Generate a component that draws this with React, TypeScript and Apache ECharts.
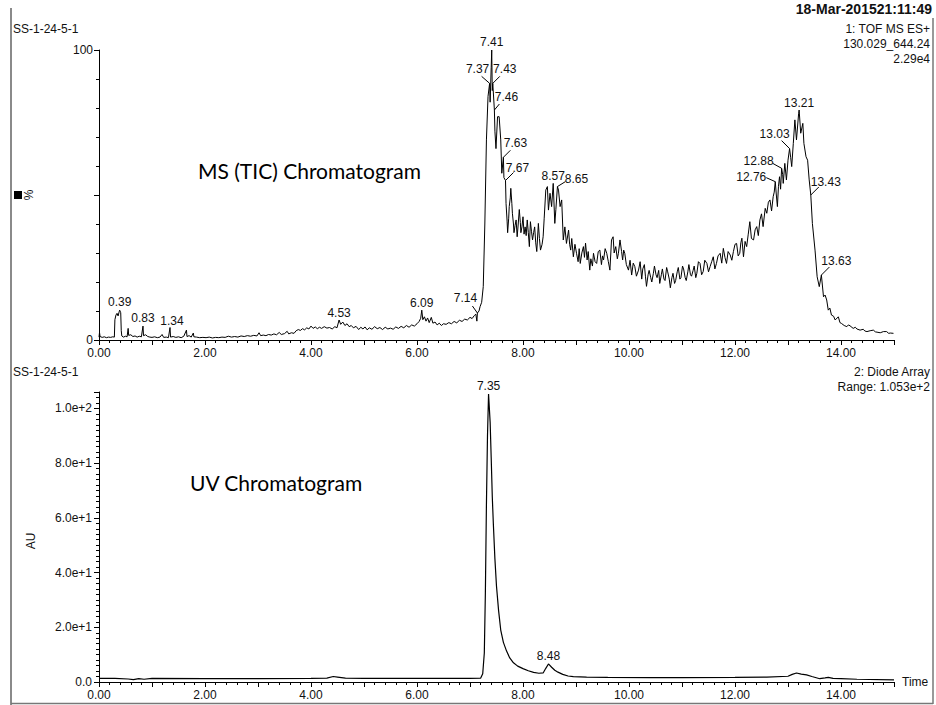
import React, { useEffect, useRef } from "react";
import * as echarts from "echarts";

// ---------- DATA ----------
// MS (TIC) trace: [time (min), relative intensity %]
const msTrace: number[][] = [
  [0.00,1.0],[0.01,2.6],[0.02,1.2],[0.06,0.9],[0.10,1.1],[0.14,0.8],[0.18,1.0],[0.22,0.9],[0.26,1.1],[0.29,1.0],
  [0.30,7.0],[0.32,8.6],[0.34,9.2],[0.36,8.3],[0.38,9.7],[0.39,10.3],[0.41,9.4],[0.42,3.2],[0.43,1.4],[0.46,1.0],
  [0.50,1.3],[0.53,1.1],[0.55,4.0],[0.56,1.6],[0.60,1.8],[0.64,1.2],[0.68,1.4],[0.72,1.0],[0.76,1.3],[0.80,1.1],
  [0.83,4.8],[0.84,1.5],[0.88,1.8],[0.92,1.2],[0.96,1.0],[1.00,0.9],[1.05,1.1],[1.10,0.8],[1.15,1.0],[1.19,1.9],
  [1.22,0.9],[1.27,1.0],[1.31,0.8],[1.34,4.3],[1.35,1.0],[1.40,1.2],[1.45,0.9],[1.50,1.1],[1.55,0.8],[1.60,1.3],
  [1.65,3.4],[1.66,1.2],[1.70,1.5],[1.74,1.0],[1.78,2.4],[1.79,1.1],[1.84,1.0],[1.90,0.8],[1.96,0.9],[2.02,0.8],
  [2.08,1.0],[2.14,0.7],[2.20,0.9],[2.26,0.8],[2.32,1.0],[2.38,0.9],[2.44,1.3],[2.50,1.0],[2.56,1.2],[2.62,1.0],
  [2.68,1.4],[2.74,1.2],[2.80,1.5],[2.86,1.3],[2.92,1.6],[2.98,1.4],[3.02,2.5],[3.05,1.5],[3.10,1.7],[3.15,1.5],
  [3.20,1.9],[3.25,1.7],[3.30,2.1],[3.35,1.8],[3.40,2.6],[3.44,1.9],[3.50,2.2],[3.55,3.0],[3.58,2.1],[3.63,2.5],
  [3.68,2.3],[3.72,3.2],[3.76,3.6],[3.80,3.3],[3.84,3.9],[3.88,3.5],[3.92,4.2],[3.96,3.8],[4.00,4.8],[4.04,4.0],
  [4.08,4.5],[4.12,3.9],[4.16,4.4],[4.20,4.0],[4.25,4.6],[4.30,4.1],[4.35,4.3],[4.40,3.8],[4.45,4.6],[4.49,4.2],
  [4.53,6.9],[4.56,5.4],[4.60,6.2],[4.64,5.0],[4.68,5.6],[4.72,4.6],[4.76,5.0],[4.80,4.2],[4.85,4.7],[4.90,3.6],
  [4.94,4.4],[4.98,3.8],[5.02,4.5],[5.06,3.5],[5.10,4.2],[5.15,3.7],[5.20,4.6],[5.25,3.9],[5.30,4.3],[5.35,3.6],
  [5.40,4.4],[5.45,3.8],[5.50,4.1],[5.55,3.7],[5.60,4.5],[5.65,4.0],[5.70,4.7],[5.75,4.2],[5.80,5.0],[5.85,4.4],
  [5.90,5.2],[5.95,4.8],[6.00,5.6],[6.04,6.4],[6.07,7.5],[6.09,10.3],[6.11,7.0],[6.14,8.0],[6.17,6.5],[6.20,7.6],
  [6.23,6.0],[6.27,7.8],[6.30,5.8],[6.34,6.2],[6.38,5.2],[6.42,5.8],[6.46,5.0],[6.50,5.6],[6.55,5.4],[6.60,6.0],
  [6.65,5.6],[6.70,6.4],[6.75,5.9],[6.80,6.8],[6.85,6.4],[6.90,7.2],[6.95,6.9],[7.00,7.8],[7.04,7.4],[7.08,8.4],
  [7.11,8.9],[7.13,6.5],[7.14,9.3],[7.17,10.0],[7.19,11.5],[7.22,13.0],[7.25,18.4],[7.28,40.0],[7.31,69.0],[7.34,84.0],
  [7.37,88.5],[7.38,82.0],[7.40,94.0],[7.41,100.0],[7.42,86.0],[7.43,88.5],[7.46,79.3],[7.47,72.0],[7.49,66.0],[7.52,77.0],
  [7.55,77.0],[7.58,69.0],[7.60,57.5],[7.63,63.0],[7.64,56.0],[7.67,55.0],[7.68,47.1],[7.70,41.0],[7.71,37.0],[7.73,42.0],
  [7.74,46.0],[7.76,49.0],[7.77,52.3],[7.79,47.0],[7.80,43.7],[7.82,40.0],[7.83,37.0],[7.85,39.5],[7.87,41.4],[7.89,35.6],
  [7.91,40.0],[7.93,45.0],[7.95,40.5],[7.96,37.0],[7.98,39.0],[8.00,42.5],[8.02,36.5],[8.04,39.0],[8.06,36.0],[8.08,41.4],
  [8.10,37.0],[8.12,32.2],[8.14,40.8],[8.16,37.5],[8.18,34.5],[8.20,37.0],[8.22,39.0],[8.24,33.5],[8.26,30.5],[8.29,40.2],
  [8.31,35.0],[8.33,31.0],[8.36,33.0],[8.38,35.6],[8.40,42.0],[8.43,51.7],[8.46,52.9],[8.48,44.8],[8.51,50.6],[8.54,46.0],
  [8.57,54.0],[8.60,40.2],[8.62,45.0],[8.65,52.9],[8.67,51.7],[8.70,46.0],[8.73,48.3],[8.76,34.5],[8.79,39.0],[8.82,33.3],
  [8.86,37.9],[8.88,33.0],[8.90,31.0],[8.92,35.0],[8.95,28.7],[8.98,33.0],[9.01,29.9],[9.04,27.0],[9.06,31.5],[9.08,26.4],
  [9.11,30.0],[9.14,32.2],[9.16,28.5],[9.18,33.4],[9.21,27.6],[9.23,30.5],[9.26,24.1],[9.28,28.0],[9.31,25.5],[9.33,29.9],
  [9.36,27.0],[9.39,26.4],[9.42,30.5],[9.45,31.0],[9.48,26.0],[9.50,29.0],[9.52,27.6],[9.55,31.5],[9.58,29.9],[9.61,27.0],
  [9.64,24.1],[9.67,34.5],[9.70,35.6],[9.72,30.0],[9.75,32.2],[9.78,28.0],[9.80,29.9],[9.83,34.5],[9.86,30.5],[9.88,27.6],
  [9.90,31.0],[9.92,29.9],[9.95,26.0],[9.99,24.1],[10.02,27.5],[10.05,22.4],[10.08,26.5],[10.11,25.3],[10.14,22.0],[10.18,24.1],
  [10.21,27.0],[10.24,21.0],[10.26,24.5],[10.29,26.0],[10.31,22.0],[10.33,18.5],[10.36,22.5],[10.38,24.0],[10.41,21.5],[10.43,20.0],
  [10.46,23.0],[10.48,25.5],[10.51,22.5],[10.53,21.5],[10.56,24.0],[10.58,19.5],[10.61,22.5],[10.63,24.5],[10.66,21.0],[10.68,20.5],
  [10.71,25.0],[10.73,23.5],[10.76,21.0],[10.78,18.0],[10.81,21.5],[10.83,23.0],[10.86,19.5],[10.88,20.5],[10.91,23.5],[10.93,25.0],
  [10.96,21.0],[10.98,21.5],[11.01,25.5],[11.03,24.5],[11.06,21.5],[11.08,20.5],[11.11,23.5],[11.13,26.0],[11.16,22.5],[11.18,22.0],
  [11.21,24.0],[11.23,25.5],[11.26,21.5],[11.28,23.0],[11.31,27.0],[11.34,26.4],[11.37,22.5],[11.40,23.6],[11.43,27.5],[11.47,26.4],
  [11.50,23.5],[11.53,25.3],[11.56,27.0],[11.59,28.7],[11.62,24.5],[11.65,26.4],[11.68,29.0],[11.72,29.9],[11.75,26.5],[11.78,31.6],
  [11.81,28.5],[11.84,26.4],[11.87,30.5],[11.91,29.3],[11.94,27.5],[11.97,30.5],[12.00,33.0],[12.03,33.3],[12.06,29.0],[12.09,29.9],
  [12.11,33.5],[12.13,35.1],[12.16,28.7],[12.19,34.0],[12.22,32.2],[12.25,36.5],[12.28,40.8],[12.31,35.0],[12.35,34.5],[12.38,38.0],
  [12.41,39.1],[12.44,36.0],[12.47,41.4],[12.50,43.5],[12.53,39.1],[12.57,45.4],[12.60,43.7],[12.63,47.5],[12.66,48.3],[12.69,44.5],
  [12.72,49.4],[12.74,51.0],[12.76,54.6],[12.78,50.0],[12.80,46.0],[12.82,53.0],[12.84,56.3],[12.86,52.0],[12.88,59.2],[12.90,57.0],
  [12.91,54.0],[12.94,60.9],[12.97,55.2],[13.00,62.0],[13.03,66.0],[13.05,63.0],[13.07,59.8],[13.10,67.8],[13.13,75.9],[13.16,69.0],
  [13.20,78.0],[13.21,79.3],[13.24,71.3],[13.28,74.7],[13.30,67.8],[13.34,63.2],[13.37,62.0],[13.40,55.2],[13.43,50.0],[13.46,40.2],
  [13.51,31.0],[13.55,21.8],[13.59,18.4],[13.63,22.4],[13.67,14.9],[13.70,15.5],[13.73,13.8],[13.76,10.3],[13.79,11.0],[13.82,8.6],
  [13.86,8.2],[13.89,6.9],[13.95,8.0],[13.98,6.0],[14.01,5.7],[14.06,5.0],[14.11,4.6],[14.14,5.2],[14.17,4.9],[14.23,4.0],
  [14.27,4.4],[14.30,3.8],[14.36,3.4],[14.42,3.7],[14.45,3.1],[14.49,2.9],[14.55,3.2],[14.61,3.4],[14.65,2.8],[14.68,2.7],
  [14.74,2.5],[14.80,2.9],[14.86,2.9],[14.90,2.3],[14.93,2.4],[14.99,2.3],
];

// UV (diode array) trace: [time (min), AU]
const uvTrace: number[][] = [
  [0.00,1.3],[0.30,1.3],[0.55,1.1],[0.65,0.9],[0.75,1.2],[0.85,1.0],[1.00,1.3],[2.00,1.2],[3.00,1.2],[4.00,1.3],
  [4.30,1.4],[4.42,2.0],[4.50,1.8],[4.65,1.4],[5.00,1.3],[6.00,1.3],[7.00,1.3],[7.20,1.4],[7.24,3.0],[7.27,10.6],
  [7.29,32.5],[7.31,65.0],[7.33,90.0],[7.35,105.3],[7.38,95.0],[7.40,82.0],[7.42,68.0],[7.44,58.0],[7.47,45.0],[7.50,35.0],
  [7.54,26.0],[7.58,19.0],[7.63,14.5],[7.69,11.3],[7.75,8.8],[7.82,7.0],[7.90,5.8],[8.00,4.9],[8.10,4.1],[8.20,3.5],
  [8.30,3.2],[8.38,3.3],[8.43,5.0],[8.48,6.6],[8.54,5.4],[8.60,4.3],[8.66,3.6],[8.75,2.8],[8.85,2.2],[8.95,2.0],
  [9.20,1.8],[9.60,1.7],[10.40,1.6],[11.00,1.6],[12.00,1.7],[12.60,1.8],[13.00,2.1],[13.08,2.8],[13.16,3.3],[13.25,2.9],
  [13.35,2.6],[13.45,2.0],[13.60,1.2],[13.70,1.5],[13.76,1.7],[13.85,1.3],[14.00,1.2],[14.30,1.0],[15.00,0.8],
];

// labelled peaks [time, value]
const msPeaks: number[][] = [
  [0.39,10.3],[0.83,4.8],[1.34,4.3],[4.53,6.9],[6.09,10.3],[7.14,9.3],[7.37,88.5],[7.41,100],[7.43,88.5],[7.46,79.3],
  [7.63,63],[7.67,55],[8.57,54],[8.65,52.9],[12.76,54.6],[12.88,59.2],[13.03,66],[13.21,79.3],[13.43,50],[13.63,22.4],
];
const uvPeaks: number[][] = [[7.35,105.3],[8.48,6.6]];

// label placement (pixel offsets: text centre, leader end) — style, not data
const msPeakOffsets: { t: number[]; l?: number[] }[] = [
  { t: [0, -8] }, { t: [0, -8] }, { t: [2, -7] }, { t: [0, -7] }, { t: [0, -7] },
  { t: [-12, -15], l: [-5, -7] },
  { t: [-12, -14], l: [-8, -7] },
  { t: [0, -8] },
  { t: [12, -14], l: [7, -7] },
  { t: [12, -13], l: [5, -6] },
  { t: [12, -14], l: [7, -7] },
  { t: [12, -13], l: [8, -8] },
  { t: [0, -7] },
  { t: [19, -8], l: [8, -5] },
  { t: [-24, -5], l: [-9, -4] },
  { t: [-23, -7], l: [-9, -5] },
  { t: [-15, -15], l: [-8, -8] },
  { t: [0, -7] },
  { t: [15, -13], l: [8, -8] },
  { t: [15, -14], l: [8, -8] },
];
const uvPeakOffsets: { t: number[]; l?: number[] }[] = [{ t: [0, -8] }, { t: [0, -8] }];

const FONT = '"Liberation Sans", Arial, Helvetica, sans-serif';

function makeLabelRenderer(offsets: { t: number[]; l?: number[] }[]) {
  return (params: any, api: any) => {
    const p = api.coord([api.value(0), api.value(1)]);
    const o = offsets[params.dataIndex] || { t: [0, -8] };
    const children: any[] = [];
    if (o.l) {
      children.push({
        type: "line",
        shape: { x1: p[0], y1: p[1], x2: p[0] + o.l[0], y2: p[1] + o.l[1] },
        style: { stroke: "#000", lineWidth: 1 },
      });
    }
    children.push({
      type: "text",
      x: p[0] + o.t[0],
      y: p[1] + o.t[1],
      style: {
        text: Number(api.value(0)).toFixed(2),
        fill: "#111",
        fontSize: 12,
        fontFamily: FONT,
        align: "center",
        verticalAlign: "middle",
        textAlign: "center",
        textVerticalAlign: "middle",
      },
    });
    return { type: "group", children };
  };
}

function txt(text: string, x: number, y: number, align: string, extra: any = {}) {
  return {
    type: "text",
    x,
    y,
    ...extra.el,
    style: {
      text,
      fill: "#111",
      fontSize: 12,
      fontFamily: FONT,
      align,
      verticalAlign: "middle",
      textAlign: align,
      textVerticalAlign: "middle",
      ...extra.style,
    },
  };
}

export default function App() {
  const ref = useRef<HTMLDivElement>(null);
  useEffect(() => {
    if (!ref.current) return;
    const chart = echarts.init(ref.current, null, { renderer: "svg" });
    const xAxisBase = (gridIndex: number) => ({
      type: "value",
      gridIndex,
      min: 0,
      max: 15,
      interval: 1,
      axisLine: { show: true, onZero: false, lineStyle: { color: "#000", width: 1 } },
      axisTick: { show: true, length: 5, lineStyle: { color: "#000" } },
      minorTick: { show: true, splitNumber: 5, length: 3, lineStyle: { color: "#000" } },
      splitLine: { show: false },
      minorSplitLine: { show: false },
      axisLabel: {
        margin: 7,
        color: "#111",
        fontSize: 12,
        fontFamily: FONT,
        formatter: (v: number) => (Math.round(v) % 2 === 0 && v < 15 ? v.toFixed(2) : ""),
      },
    });
    const option: any = {
      animation: false,
      backgroundColor: "#fff",
      grid: [
        { left: 99, top: 50, width: 795, height: 290, outerBoundsMode: "none" },
        { left: 99, top: 392, width: 795, height: 290, outerBoundsMode: "none" },
      ],
      xAxis: [
        xAxisBase(0),
        {
          ...xAxisBase(1),
          name: "Time",
          nameLocation: "end",
          nameGap: 8,
          nameTextStyle: { color: "#111", fontSize: 12, fontFamily: FONT, padding: [6, 0, 0, 0] },
        },
      ],
      yAxis: [
        {
          type: "value",
          gridIndex: 0,
          position: "left",
          min: 0,
          max: 100,
          interval: 50,
          axisLine: { show: true, lineStyle: { color: "#000", width: 1 } },
          axisTick: { show: true, length: 5, lineStyle: { color: "#000" } },
          minorTick: { show: true, splitNumber: 5, length: 3, lineStyle: { color: "#000" } },
          splitLine: { show: false },
          axisLabel: {
            margin: 6,
            color: "#111",
            fontSize: 12,
            fontFamily: FONT,
            formatter: (v: number) => (v === 0 ? "0" : v === 100 ? "100" : ""),
          },
        },
        {
          type: "value",
          gridIndex: 1,
          position: "left",
          min: 0,
          max: 106,
          interval: 2,
          axisLine: { show: true, lineStyle: { color: "#000", width: 1 } },
          axisTick: { show: true, length: 3, lineStyle: { color: "#000" } },
          splitLine: { show: false },
          axisLabel: {
            margin: 7,
            color: "#111",
            fontSize: 12,
            fontFamily: FONT,
            formatter: (v: number) => {
              if (v === 0) return "0.0";
              if (v % 20 !== 0 || v > 100) return "";
              if (v === 100) return "1.0e+2";
              return (v / 10).toFixed(1) + "e+1";
            },
          },
        },
        {
          type: "value",
          gridIndex: 1,
          position: "left",
          offset: 0,
          min: 0,
          max: 106,
          interval: 20,
          axisLine: { show: false },
          axisTick: { show: true, length: 5, lineStyle: { color: "#000" } },
          splitLine: { show: false },
          axisLabel: { show: false },
        },
      ],
      series: [
        {
          type: "line",
          xAxisIndex: 0,
          yAxisIndex: 0,
          data: msTrace,
          showSymbol: false,
          symbol: "none",
          lineStyle: { color: "#000", width: 1 },
          silent: true,
        },
        {
          type: "line",
          xAxisIndex: 1,
          yAxisIndex: 1,
          data: uvTrace,
          showSymbol: false,
          symbol: "none",
          lineStyle: { color: "#000", width: 1.2 },
          silent: true,
        },
        {
          type: "custom",
          xAxisIndex: 0,
          yAxisIndex: 0,
          data: msPeaks,
          clip: false,
          silent: true,
          renderItem: makeLabelRenderer(msPeakOffsets),
        },
        {
          type: "custom",
          xAxisIndex: 1,
          yAxisIndex: 1,
          data: uvPeaks,
          clip: false,
          silent: true,
          renderItem: makeLabelRenderer(uvPeakOffsets),
        },
      ],
      graphic: [
        { type: "line", shape: { x1: 11, y1: 8, x2: 11, y2: 705 }, style: { stroke: "#8a8a8a", lineWidth: 2 } },
        { type: "line", shape: { x1: 933, y1: 18, x2: 933, y2: 704 }, style: { stroke: "#777", lineWidth: 1.5 } },
        { type: "line", shape: { x1: 11, y1: 703.5, x2: 933, y2: 703.5 }, style: { stroke: "#777", lineWidth: 1.5 } },
        txt("SS-1-24-5-1", 13, 29, "left"),
        {
          type: "text",
          x: 932,
          y: 16,
          style: {
            text: "18-Mar-201521:11:49",
            fill: "#111",
            fontSize: 14,
            fontWeight: "bold",
            fontFamily: FONT,
            align: "right",
            verticalAlign: "bottom",
            textAlign: "right",
            textVerticalAlign: "bottom",
          },
        },
        txt("1: TOF MS ES+", 930, 29, "right"),
        txt("130.029_644.24", 930, 44, "right"),
        txt("2.29e4", 930, 59, "right"),
        txt("MS (TIC) Chromatogram", 198, 170, "left", { style: { fontSize: 21, fontFamily: "Lato, 'Open Sans', sans-serif", fill: "#000" } }),
        { type: "rect", shape: { x: 14, y: 191, width: 8, height: 8 }, style: { fill: "#000" } },
        txt("%", 29, 195, "center", { el: { rotation: Math.PI / 2 } }),
        txt("SS-1-24-5-1", 13, 372, "left"),
        txt("2: Diode Array", 930, 372, "right"),
        txt("Range: 1.053e+2", 930, 387, "right"),
        txt("UV Chromatogram", 190, 482, "left", { style: { fontSize: 21, fontFamily: "Lato, 'Open Sans', sans-serif", fill: "#000" } }),
        txt("AU", 31, 541, "center", { el: { rotation: Math.PI / 2 } }),
      ],
    };
    chart.setOption(option);
    return () => chart.dispose();
  }, []);
  return (
    <div
      ref={ref}
      style={{ position: "fixed", left: 0, top: 0, width: 936, height: 705, background: "#fff" }}
    />
  );
}
